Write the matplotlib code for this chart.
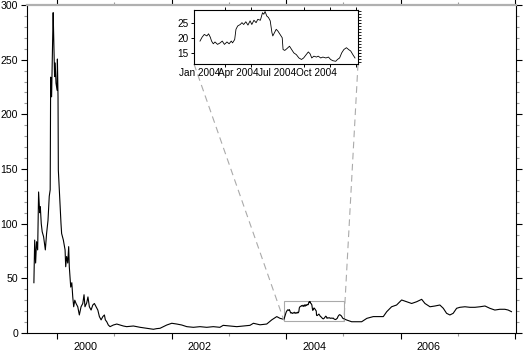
import pandas as pd
import matplotlib
matplotlib.use("Agg")
import matplotlib.pyplot as plt
import matplotlib.transforms as mtransforms
from mpl_toolkits.axes_grid1.inset_locator import mark_inset

plt.rcParams['font.family'] = ['Liberation Sans', 'DejaVu Sans']

# price series (before 2004)
dates_early = [
    '1999-08-06', '1999-08-11', '1999-08-17', '1999-08-23', '1999-08-30', '1999-09-05',
    '1999-09-12', '1999-09-16', '1999-09-22', '1999-09-28', '1999-10-07', '1999-10-18',
    '1999-10-26', '1999-11-04', '1999-11-12', '1999-11-18', '1999-11-21', '1999-11-27',
    '1999-12-01', '1999-12-04', '1999-12-07', '1999-12-12', '1999-12-16', '1999-12-20',
    '1999-12-25', '2000-01-01', '2000-01-03', '2000-01-07', '2000-01-09', '2000-01-15',
    '2000-01-26', '2000-01-30', '2000-02-10', '2000-02-21', '2000-02-25', '2000-03-02',
    '2000-03-09', '2000-03-15', '2000-03-19', '2000-03-28', '2000-04-04', '2000-04-10',
    '2000-04-16', '2000-04-23', '2000-05-01', '2000-05-12', '2000-05-22', '2000-06-02',
    '2000-06-13', '2000-06-21', '2000-06-27', '2000-07-08', '2000-07-16', '2000-07-25',
    '2000-08-05', '2000-08-16', '2000-08-26', '2000-09-06', '2000-09-17', '2000-09-27',
    '2000-10-08', '2000-10-19', '2000-10-29', '2000-11-04', '2000-11-13', '2000-11-23',
    '2000-12-04', '2000-12-25', '2001-01-16', '2001-02-06', '2001-02-27', '2001-03-20',
    '2001-05-02', '2001-06-14', '2001-07-26', '2001-09-07', '2001-09-28', '2001-10-19',
    '2001-12-01', '2002-01-02', '2002-02-03', '2002-03-07', '2002-04-08', '2002-05-20',
    '2002-07-01', '2002-08-13', '2002-09-24', '2002-11-05', '2002-11-26', '2003-01-09',
    '2003-02-21', '2003-04-04', '2003-05-16', '2003-06-07', '2003-07-19', '2003-08-31',
    '2003-10-02', '2003-11-03', '2003-11-24', '2003-12-19',
]
values_early = [
    46, 85, 64, 83.5, 76, 129,
    110, 115.5, 100, 92.6, 88, 76,
    91, 103, 125, 131, 234, 216,
    250, 271, 293, 262, 234.5, 247,
    228.6, 222, 250.6, 216, 149, 131,
    100, 91, 85, 76, 60.6, 70,
    64, 79, 60.6, 42, 46, 33,
    24, 30, 27, 24, 16.5, 24,
    27, 35, 24, 27.5, 33, 24,
    21, 25.6, 27, 24, 21, 15,
    12, 15, 16.5, 12, 10.3, 7.3,
    5.8, 7.3, 8.2, 7.3, 6.4, 5.8,
    6.4, 5.2, 4.3, 3.4, 4, 4.3,
    7.3, 8.9, 8.2, 7.3, 5.8, 5.2,
    5.8, 5.2, 5.8, 5.2, 7, 6.4,
    5.8, 6.4, 7, 8.9, 7.5, 8.2,
    12, 15, 13.4, 12.5,
]

# 2004 detail (inset)
dates_2004 = [
    '2004-01-02', '2004-01-07', '2004-01-12', '2004-01-18', '2004-01-22', '2004-01-26',
    '2004-01-29', '2004-02-02', '2004-02-06', '2004-02-12', '2004-02-18', '2004-02-23',
    '2004-02-28', '2004-03-05', '2004-03-10', '2004-03-15', '2004-03-18', '2004-03-23',
    '2004-03-26', '2004-03-30', '2004-04-05', '2004-04-09', '2004-04-13', '2004-04-18',
    '2004-04-23', '2004-04-28', '2004-05-02', '2004-05-07', '2004-05-12', '2004-05-16',
    '2004-05-22', '2004-05-27', '2004-05-30', '2004-06-02', '2004-06-06', '2004-06-10',
    '2004-06-14', '2004-06-18', '2004-06-20', '2004-06-24', '2004-06-28', '2004-07-02',
    '2004-07-07', '2004-07-12', '2004-07-14', '2004-07-18', '2004-07-23', '2004-07-29',
    '2004-08-03', '2004-08-08', '2004-08-14', '2004-08-20', '2004-08-26', '2004-08-31',
    '2004-09-06', '2004-09-11', '2004-09-15', '2004-09-19', '2004-09-24', '2004-09-30',
    '2004-10-04', '2004-10-10', '2004-10-15', '2004-10-22', '2004-10-28', '2004-11-02',
    '2004-11-07', '2004-11-14', '2004-11-18', '2004-11-23', '2004-11-28', '2004-12-03',
    '2004-12-09', '2004-12-14', '2004-12-19', '2004-12-24', '2004-12-29',
]
values_2004 = [
    19.0, 20.3, 21.2, 20.7, 21.4, 20.3,
    19.0, 18.1, 18.7, 17.9, 18.4, 19.0,
    17.9, 18.7, 18.1, 19.0, 18.4, 19.5,
    22.9, 24.0, 24.5, 25.1, 24.5, 25.4,
    24.3, 25.7, 24.5, 25.9, 25.1, 26.2,
    25.9, 28.4, 27.9, 28.8, 27.3, 26.8,
    25.7, 21.8, 20.7, 21.8, 22.9, 22.3,
    21.2, 20.1, 16.2, 15.9, 16.5, 17.3,
    16.2, 15.1, 14.5, 13.4, 12.9, 13.4,
    14.5, 15.4, 14.8, 13.4, 14.0, 13.7,
    14.0, 13.4, 13.7, 13.4, 13.7, 12.9,
    12.5, 12.3, 12.9, 13.4, 15.1, 16.2,
    16.8, 16.2, 15.7, 14.5, 13.4,
]

# after 2004
dates_late = [
    '2005-01-22', '2005-02-23', '2005-03-27', '2005-04-28', '2005-05-31', '2005-07-11',
    '2005-08-12', '2005-09-13', '2005-10-05', '2005-11-05', '2005-12-07', '2006-01-08',
    '2006-02-09', '2006-03-13', '2006-04-14', '2006-05-16', '2006-06-06', '2006-07-08',
    '2006-08-09', '2006-09-09', '2006-10-01', '2006-10-22', '2006-11-12', '2006-12-03',
    '2006-12-25', '2007-01-15', '2007-02-16', '2007-03-20', '2007-04-21', '2007-05-23',
    '2007-06-24', '2007-07-25', '2007-08-26', '2007-09-27', '2007-10-29', '2007-11-19',
    '2007-12-10',
]
values_late = [
    11.9, 10.3, 10.3, 10.3, 13.4, 15,
    15, 15, 19.5, 24, 25.6, 30.2,
    28.6, 27, 28.6, 30.8, 27, 24,
    24.7, 25.6, 22.6, 18, 16.5, 18,
    22.6, 23.5, 24, 23.5, 23.5, 24,
    24.7, 22.6, 21, 21.7, 21.7, 21,
    19.5,
]

price = pd.Series(values_early + values_2004 + values_late,
                  index=pd.to_datetime(dates_early + dates_2004 + dates_late))
zoom = price['2004']

even_years = pd.to_datetime(['2000-01-01', '2002-01-01', '2004-01-01', '2006-01-01', '2008-01-01'])
odd_years = pd.to_datetime(['2001-01-01', '2003-01-01', '2005-01-01', '2007-01-01'])
label_pos = pd.to_datetime(['2000-07-01', '2002-07-01', '2004-07-01', '2006-07-01'])
label_txt = ['2000', '2002', '2004', '2006']

inset_ticks = pd.to_datetime(['2004-01-01', '2004-03-01', '2004-05-01', '2004-07-01',
                              '2004-09-01', '2004-11-01', '2005-01-01'])
inset_lab_pos = pd.to_datetime(['2004-01-01', '2004-04-01', '2004-07-01', '2004-10-01'])
inset_lab_txt = ['Jan 2004', 'Apr 2004', 'Jul 2004', 'Oct 2004']

fig = plt.figure(figsize=(5.23, 3.5), dpi=100)
ax = fig.add_axes([27 / 523, 17 / 350, 489 / 523, 328 / 350])
ax.plot(price.index, price.values, color='black', lw=0.8)
ax.set_xlim(pd.Timestamp('1999-06-23'), pd.Timestamp('2008-01-08'))
ax.set_ylim(0, 300)

ax.set_yticks(range(0, 301, 50))
ax.set_yticks(range(0, 301, 10), minor=True)
ax.set_xticks(even_years)
ax.set_xticks(odd_years, minor=True)
ax.set_xticklabels([])
ax.tick_params(axis='both', which='major', direction='out', length=4, width=0.8,
               color='black', labelsize=7.6, pad=2.5)
ax.tick_params(axis='both', which='minor', direction='out', length=2.5, width=0.8,
               color='#999999')
ax.tick_params(axis='y', right=True, which='both')
ax.tick_params(axis='x', top=True, which='both')
for s in ['left', 'bottom', 'right']:
    ax.spines[s].set_linewidth(0.8)
ax.spines['top'].set_color('#b0b0b0')
ax.spines['top'].set_linewidth(1.6)

trans = mtransforms.blended_transform_factory(ax.transData, ax.transAxes)
for pos, txt in zip(label_pos, label_txt):
    ax.text(pos, -0.026, txt, transform=trans, ha='center', va='top', fontsize=7.8)

# inset
ins = fig.add_axes([194 / 523, (350 - 64) / 350, 164 / 523, 54 / 350])
ins.plot(zoom.index, zoom.values, color='black', lw=0.6)
ins.set_xlim(pd.Timestamp('2003-12-19'), pd.Timestamp('2005-01-05'))
ins.set_ylim(11.4, 29.3)
ins.set_yticks([15, 20, 25])
ins.set_yticks(range(12, 30), minor=True)
ins.set_xticks(inset_lab_pos)
ins.set_xticklabels(inset_lab_txt)
ins.set_xticks(inset_ticks, minor=True)
ins.tick_params(axis='x', which='major', length=0, labelsize=7.2, pad=3)
ins.tick_params(axis='x', which='minor', direction='out', length=2.5, width=0.7,
                top=True, bottom=True)
ins.tick_params(axis='y', which='major', direction='out', length=2.5, width=0.7,
                labelsize=7.2, pad=1.5, right=True)
ins.tick_params(axis='y', which='minor', direction='out', length=1.8, width=0.6,
                left=False, right=True)
for s in ins.spines.values():
    s.set_linewidth(0.8)

pp, p1, p2 = mark_inset(ax, ins, loc1=3, loc2=4, fc='none', ec='#aaaaaa', lw=0.8)
p1.set_linestyle((0, (6, 4)))
p2.set_linestyle((0, (6, 4)))

fig.savefig('out.png', dpi=100)
